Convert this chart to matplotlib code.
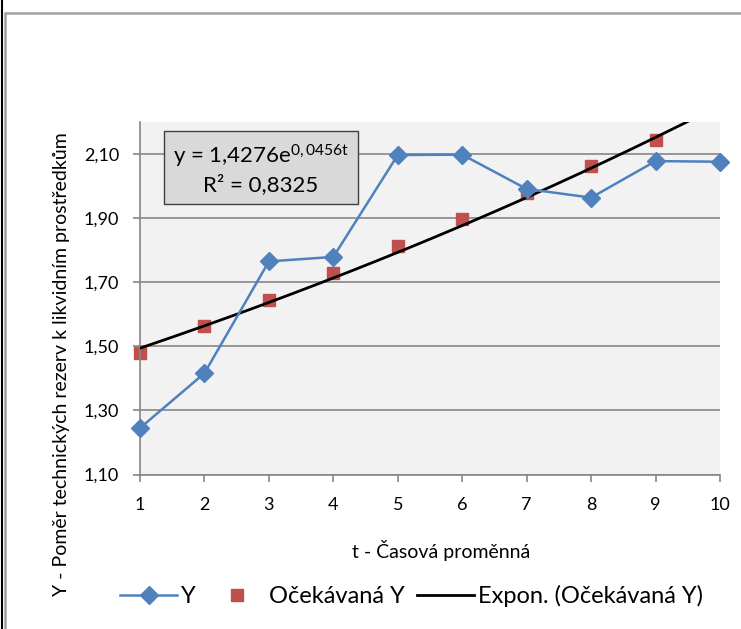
import numpy as np
import matplotlib.pyplot as plt
from matplotlib.patches import Rectangle
from matplotlib.lines import Line2D

plt.rcParams['font.family'] = ['Lato', 'DejaVu Sans']
plt.rcParams['mathtext.fontset'] = 'custom'
plt.rcParams['mathtext.rm'] = 'Lato'
plt.rcParams['mathtext.it'] = 'Lato'

# data
t = [1, 2, 3, 4, 5, 6, 7, 8, 9, 10]
y_actual = [1.245, 1.416, 1.765, 1.779, 2.097, 2.098, 1.991, 1.964, 2.078, 2.076]
t_exp = [1, 2, 3, 4, 5, 6, 7, 8, 9]
y_expected = [1.478, 1.562, 1.646, 1.730, 1.812, 1.897, 1.979, 2.062, 2.144]
# trend equation shown on the chart
trend_a = 1.4276
trend_b = 0.0456
yticks = [1.10, 1.30, 1.50, 1.70, 1.90, 2.10]

blue = '#4F81BD'
red = '#C0504D'
grid = '#868686'

fig = plt.figure(figsize=(7.41, 6.29), dpi=100)
ax = fig.add_axes([140 / 741, 1 - 474.5 / 629, 580 / 741, 352.5 / 629])
ax.set_facecolor('#F2F2F2')

tt = np.linspace(1, 10, 200)
ax.plot(tt, trend_a * np.exp(trend_b * tt), color='black', lw=2, zorder=3,
        label='Expon. (Očekávaná Y)')
ax.plot(t, y_actual, color=blue, lw=1.8, marker='D', ms=9, zorder=4, label='Y',
        clip_on=False)
ax.plot(t_exp, y_expected, ls='none', marker='s', ms=8, color=red, zorder=2,
        label='Očekávaná Y', clip_on=False)

ax.set_xlim(1, 10)
ax.set_ylim(1.10, 2.20)
ax.set_xticks(t)
ax.set_yticks(yticks)
ax.set_yticklabels([f'{v:.2f}'.replace('.', ',') for v in yticks])
ax.yaxis.grid(True, color=grid, lw=1.2)
ax.set_axisbelow(True)
for s in ['top', 'right']:
    ax.spines[s].set_visible(False)
for s in ['left', 'bottom']:
    ax.spines[s].set_color(grid)
    ax.spines[s].set_linewidth(1.2)
ax.tick_params(axis='both', colors=grid, length=5, width=1.2, labelsize=13,
               labelcolor='black')
ax.tick_params(axis='y', pad=10)
ax.tick_params(axis='x', pad=11)

ax.set_xlabel('t - Časová proměnná', fontsize=14)
ax.xaxis.set_label_coords(0.52, -0.185)
fig.text(62 / 741, 1 - 364 / 629, 'Y - Poměr technických rezerv k likvidním prostředkům',
         rotation=90, ha='center', va='center', fontsize=14)

# equation box
ax.text(0.2086, 0.868, r'y = 1,4276e$^{\mathrm{0,0456t}}$' + '\nR² = 0,8325',
        transform=ax.transAxes, ha='center', va='center', fontsize=16,
        linespacing=1.25, zorder=6,
        bbox=dict(boxstyle='square,pad=0.4', fc='#D9D9D9', ec='#404040', lw=1))

h, l = ax.get_legend_handles_labels()
order = [1, 2, 0]
fig.legend([h[i] for i in order], [l[i] for i in order], loc='center',
           bbox_to_anchor=(0.5553, 0.052), ncol=3, frameon=False, fontsize=17,
           handlelength=2.4, columnspacing=0.55, handletextpad=0.15)

# outer chart frame and left edge line
fig.patches.append(Rectangle((5 / 741, -0.1), 1.2, 1 - 12.5 / 629 + 0.1,
                             transform=fig.transFigure, fill=False, ec='#A0A0A0', lw=1.8))
fig.lines.append(Line2D([1.5 / 741, 1.5 / 741], [0, 1], transform=fig.transFigure,
                        color='black', lw=1.5))

fig.savefig('out.png', dpi=100)
